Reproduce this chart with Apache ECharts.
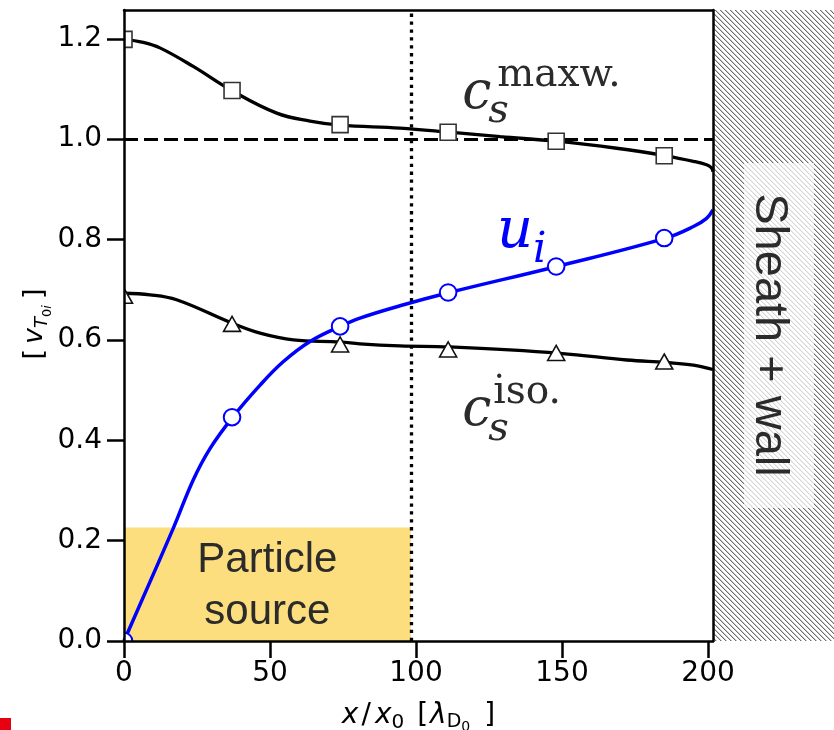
<!DOCTYPE html>
<html><head><meta charset="utf-8">
<script src="https://cdn.jsdelivr.net/npm/echarts@6/dist/echarts.min.js"></script>
<style>html,body{margin:0;padding:0;background:#fff}#c{width:834px;height:730px}</style>
</head><body><div id="c"></div>
<script>
// ---- axes / ticks ----
const xTicks = [0, 50, 100, 150, 200];
const yTicks = [0, 0.2, 0.4, 0.6, 0.8, 1.0, 1.2];
const xMin = 0, xMax = 201.7, yMin = 0, yMax = 1.2575;

// ---- curves (x / x0, value in v_T0i) ----
const maxwLine = [[0,1.199],[6.6,1.193],[12.3,1.182],[23.7,1.145],[36.9,1.097],[52.3,1.052],[63.7,1.036],[74,1.028],[94.5,1.022],[111.4,1.014],[128.8,1.005],[148.2,0.996],[168.7,0.982],[185.5,0.967],[195,0.956],[199.5,0.949],[201.2,0.943],[201.7,0.935]];
const isoLine = [[0,0.693],[8.9,0.690],[18,0.680],[37.2,0.633],[46.6,0.6135],[58,0.600],[74,0.596],[80.8,0.592],[94.5,0.588],[111.4,0.586],[149.3,0.5734],[172.2,0.560],[185.6,0.555],[195,0.550],[201.7,0.541]];
const uiLine = [[0,0],[16.9,0.225],[23.7,0.321],[29.5,0.384],[37.2,0.446],[46.6,0.510],[54.6,0.557],[63.7,0.597],[74,0.627],[80.8,0.6435],[94.5,0.668],[111.4,0.6945],[148.2,0.7464],[185.5,0.803],[195,0.826],[199.5,0.8424],[201.7,0.859]];

// ---- markers ----
const maxwMarkers = [[0,1.199],[37,1.097],[74,1.029],[111,1.014],[148,0.996],[185,0.967]];
const isoMarkers = [[0,0.688],[37,0.632],[74,0.591],[111,0.581],[148,0.574],[185,0.557]];
const uiMarkers = [[0,0],[37,0.446],[74,0.627],[111,0.6945],[148,0.7464],[185,0.803]];

// ---- reference lines / regions ----
const refLevel = 1.0;
const sourceRange = [0, 98.2];
const sourceTop = 0.226;
const sourceLabel = 'Particle\nsource';
const wallLabel = 'Sheath + wall';

// ---- annotation anchors (data coords) ----
const maxwLabelAt = [115.8, 1.062];
const isoLabelAt = [115.8, 0.431];
const uiLabelAt = [127.7, 0.786];

const chart = echarts.init(document.getElementById('c'), null, {renderer:'canvas', width:834, height:730});

const axisLineStyle = {color:'#000', width:2.5};

function markerSeries(data, kind, stroke, lw){
  return {
    type:'custom', data:data, clip:true, silent:true, z:5,
    renderItem: function(params, api){
      const p = api.coord([api.value(0), api.value(1)]);
      const style = {fill:'#fff', stroke:stroke, lineWidth:lw};
      if (kind === 'rect') return {type:'rect', shape:{x:p[0]-8, y:p[1]-8, width:16, height:16}, style:style};
      if (kind === 'circle') return {type:'circle', shape:{cx:p[0], cy:p[1], r:8.3}, style:style};
      return {type:'polygon', shape:{points:[[p[0], p[1]-7.5],[p[0]+8.5, p[1]+7.5],[p[0]-8.5, p[1]+7.5]]}, style:style};
    }
  };
}

const option = {
  animation: false,
  backgroundColor: '#fff',
  grid: {left:124, right:121, top:10, bottom:89, containLabel:false},
  xAxis: [{
    type:'value', min:xMin, max:xMax, z:10,
    axisLine:{show:true, onZero:false, lineStyle:axisLineStyle},
    axisTick:{show:true, length:17, lineStyle:{color:'#000', width:2.5}, customValues:xTicks},
    axisLabel:{customValues:xTicks, fontSize:28, fontFamily:'DejaVu Sans', color:'#000', margin:19},
    splitLine:{show:false}
  },{
    type:'value', position:'top', min:xMin, max:xMax, z:10,
    axisLine:{show:true, onZero:false, lineStyle:axisLineStyle},
    axisTick:{show:false}, axisLabel:{show:false}, splitLine:{show:false}
  }],
  yAxis: [{
    type:'value', min:yMin, max:yMax, z:10,
    axisLine:{show:true, onZero:false, lineStyle:axisLineStyle},
    axisTick:{show:true, length:17, lineStyle:{color:'#000', width:2.5}, customValues:yTicks},
    axisLabel:{customValues:yTicks, fontSize:28, fontFamily:'DejaVu Sans', color:'#000', margin:22,
      formatter: v => Number(v).toFixed(1)},
    splitLine:{show:false}
  },{
    type:'value', position:'right', min:yMin, max:yMax, z:10,
    axisLine:{show:true, onZero:false, lineStyle:axisLineStyle},
    axisTick:{show:false}, axisLabel:{show:false}, splitLine:{show:false}
  }],
  series: [
    {type:'line', data:maxwLine, showSymbol:false, smooth:0.4, silent:true, z:2,
     lineStyle:{color:'#000', width:3.3}},
    {type:'line', data:isoLine, showSymbol:false, smooth:0.4, silent:true, z:2,
     lineStyle:{color:'#000', width:3.3}},
    {type:'line', data:uiLine, showSymbol:false, smooth:0.4, silent:true, z:2,
     lineStyle:{color:'#0000ff', width:3.5}},
    {type:'line', data:[[sourceRange[0], 0]], showSymbol:false, silent:true, z:3, lineStyle:{opacity:0},
     markArea:{silent:true, itemStyle:{color:'rgba(250,190,0,0.5)'},
       label:{show:true, position:'inside', formatter:sourceLabel, fontSize:42, lineHeight:52,
              fontFamily:'Liberation Sans', color:'#2b2b2b', offset:[0,2]},
       data:[[{xAxis:sourceRange[0], yAxis:0},{xAxis:sourceRange[1], yAxis:sourceTop}]]}},
    {type:'line', data:[[sourceRange[0], 0]], showSymbol:false, silent:true, z:4, lineStyle:{opacity:0},
     markLine:{silent:true, symbol:['none','none'], label:{show:false}, animation:false,
       data:[
         {yAxis:refLevel, lineStyle:{type:[14,6], width:3, color:'#000'}},
         {xAxis:sourceRange[1], lineStyle:{type:[3.3,4.6], width:3.3, color:'#000'}}
       ]}},
    markerSeries(maxwMarkers, 'rect', '#333', 1.6),
    markerSeries(isoMarkers, 'triangle', '#111', 1.6),
    markerSeries(uiMarkers, 'circle', '#0000ff', 2)
  ]
};
chart.setOption(option);

// ---- text helpers ----
const mc = document.createElement('canvas').getContext('2d');
function mw(font, t){ mc.font = font; return mc.measureText(t).width; }
function boff(font){ mc.font = font; mc.textBaseline = 'middle'; return mc.measureText('x').actualBoundingBoxDescent; }
function txt(t, font, x, y, color){
  return {type:'text', x:x, y:y - boff(font), z:20,
    style:{text:t, font:font, fill:color, align:'left', textAlign:'left', verticalAlign:'middle', textVerticalAlign:'middle'}};
}
function runEls(parts, center){
  let x = 0; const items = [];
  parts.forEach(p => {
    if (p.gap != null) { x += p.gap; return; }
    items.push({p:p, x:x}); x += mw(p.font, p.t);
  });
  const shift = center ? -x/2 : 0;
  return items.map(it => txt(it.p.t, it.p.font, it.x + shift, it.p.dy || 0, it.p.color || '#000'));
}

const P = (x, y) => chart.convertToPixel({gridIndex:0}, [x, y]);
const tl = P(xMax, yMax), br = P(xMax, yMin), bl = P(xMin, yMin);
const wallX = tl[0];

function hatch(){
  const n = 5;
  const c = document.createElement('canvas'); c.width = n; c.height = n;
  const g = c.getContext('2d'); const img = g.createImageData(n,n);
  for (let y=0;y<n;y++) for (let x=0;x<n;x++){
    const d = ((x - y) % n + n) % n;
    const v = d===0 ? 110 : (d===1 ? 200 : 255);
    const i = (y*n+x)*4; img.data[i]=v; img.data[i+1]=v; img.data[i+2]=v; img.data[i+3]=255;
  }
  g.putImageData(img,0,0); return c;
}

const graphics = [];
graphics.push({type:'rect', z:1, shape:{x:wallX, y:tl[1], width:834-wallX, height:br[1]-tl[1]},
  style:{fill:{image:hatch(), repeat:'repeat'}}, silent:true});
graphics.push({type:'rect', z:2, shape:{x:wallX+31, y:163, width:70, height:345},
  style:{fill:'rgba(255,255,255,0.7)'}, silent:true});
graphics.push({type:'group', x:wallX+43, y:335, rotation:-Math.PI/2,
  children: runEls([{t:wallLabel, font:"47px 'Liberation Sans'", color:'#2b2b2b'}], true)});

const cF = "italic 52px 'DejaVu Serif'", sF = "italic 40px 'DejaVu Serif'", supF = "39px 'DejaVu Serif'";
const txtCol = '#2b2b2b';
let a = P(maxwLabelAt[0], maxwLabelAt[1]);
graphics.push({type:'group', x:a[0], y:a[1], children:[
  txt('c', cF, 0, 0, txtCol), txt('s', sF, 26, 14, txtCol), txt('maxw.', supF, 35, -22, txtCol)]});
a = P(isoLabelAt[0], isoLabelAt[1]);
graphics.push({type:'group', x:a[0], y:a[1], children:[
  txt('c', cF, 0, 0, txtCol), txt('s', sF, 26, 15, txtCol), txt('iso.', supF, 31, -22, txtCol)]});
a = P(uiLabelAt[0], uiLabelAt[1]);
graphics.push({type:'group', x:a[0], y:a[1], children:[
  txt('u', "italic 56px 'DejaVu Serif'", 0, 0, '#0000ff'), txt('i', "italic 42px 'DejaVu Serif'", 36, 15, '#0000ff')]});

const F28 = "28px 'DejaVu Sans'", I28 = "italic 28px 'DejaVu Sans'";
graphics.push({type:'group', x:(bl[0]+wallX)/2, y:723, children: runEls([
  {t:'x', font:I28}, {gap:3}, {t:'/', font:F28}, {gap:4}, {t:'x', font:I28},
  {t:'0', font:"20px 'DejaVu Sans'", dy:5}, {gap:13}, {t:'[', font:F28}, {gap:2}, {t:'λ', font:I28},
  {t:'D', font:"19px 'DejaVu Sans'", dy:4}, {t:'0', font:"14px 'DejaVu Sans'", dy:8}, {gap:14}, {t:']', font:F28}
], true)});
graphics.push({type:'group', x:42, y:324, rotation:Math.PI/2, children: runEls([
  {t:'[', font:"27px 'DejaVu Sans'"}, {gap:5}, {t:'v', font:"italic 27px 'DejaVu Sans'"},
  {t:'T', font:"italic 18px 'DejaVu Sans'", dy:5}, {t:'0', font:"13px 'DejaVu Sans'", dy:9},
  {t:'i', font:"italic 13px 'DejaVu Sans'", dy:9}, {gap:6}, {t:']', font:"27px 'DejaVu Sans'"}
], true)});

graphics.push({type:'rect', z:20, shape:{x:0, y:718, width:11, height:12}, style:{fill:'#e60012'}, silent:true});

chart.setOption({graphic: graphics});
</script>
</body></html>
